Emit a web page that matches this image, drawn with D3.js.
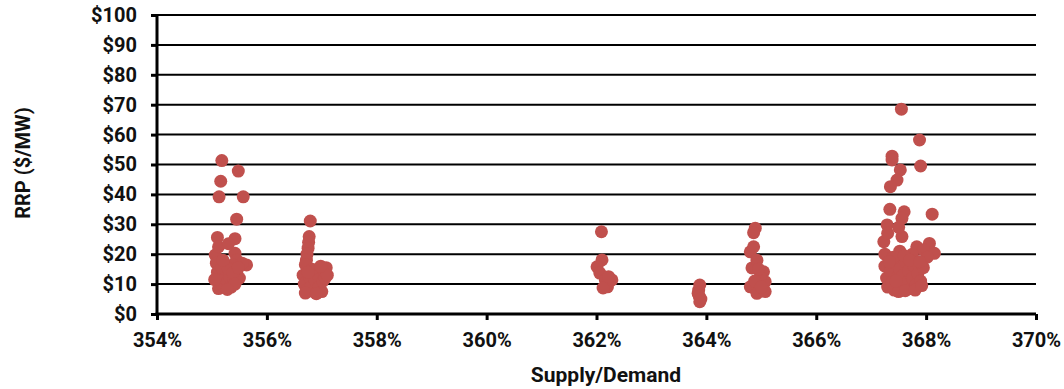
<!DOCTYPE html>
<html>
<head>
<meta charset="utf-8">
<script src="https://cdn.jsdelivr.net/npm/d3@7"></script>
<style>
  body { margin: 0; background: #fff; }
  svg text { font-family: Roboto, "Noto Sans", sans-serif; font-weight: 700; fill: #111; }
</style>
</head>
<body>
<svg id="chart" width="1064" height="389"></svg>
<script>
// [supply/demand %, RRP $/MW], one list per cluster
const cluster355 = [
  [355.18, 51.3], [355.48, 47.8], [355.16, 44.4], [355.13, 39.2], [355.57, 39.2],
  [355.45, 31.7], [355.10, 25.6], [355.42, 25.2], [355.06, 19.7], [355.42, 20.3],
  [355.63, 16.4], [355.12, 22.5], [355.30, 23.5], [355.08, 17.0], [355.45, 18.0],
  [355.55, 17.0], [355.38, 16.5], [355.10, 14.0], [355.15, 11.0], [355.12, 8.5],
  [355.20, 9.5], [355.22, 13.0], [355.28, 10.5], [355.25, 16.0], [355.32, 12.5],
  [355.35, 9.0], [355.40, 11.5], [355.45, 14.0], [355.50, 12.0], [355.18, 15.5],
  [355.05, 11.5], [355.30, 15.0], [355.38, 13.8], [355.42, 10.0], [355.28, 8.2],
  [355.48, 15.5], [355.20, 18.0]
];
const cluster357 = [
  [356.79, 31.1], [356.77, 25.9], [356.76, 24.0], [356.75, 22.0], [356.73, 20.0],
  [356.72, 18.0], [356.70, 16.5], [356.66, 13.0], [356.68, 10.0], [356.72, 8.0],
  [356.78, 12.0], [356.80, 9.0], [356.85, 7.5], [356.88, 11.0], [356.92, 13.5],
  [356.95, 9.0], [357.00, 7.5], [357.02, 11.0], [357.05, 14.0], [357.08, 15.5],
  [357.06, 12.0], [356.70, 7.0], [356.90, 6.8], [356.82, 15.0], [356.75, 14.0],
  [357.10, 13.0], [356.98, 16.0]
];
const cluster362 = [
  [362.09, 27.5], [362.10, 18.1], [362.01, 15.8], [362.06, 13.7], [362.16, 11.4],
  [362.20, 9.1], [362.12, 8.7], [362.28, 11.4], [362.22, 12.5]
];
const cluster364 = [
  [363.88, 9.7], [363.86, 8.0], [363.85, 6.9], [363.87, 5.9], [363.88, 4.1], [363.90, 5.0]
];
const cluster365 = [
  [364.89, 28.7], [364.86, 27.2], [364.80, 20.8], [364.86, 22.5], [364.83, 15.4],
  [365.04, 14.1], [365.07, 10.8], [364.80, 9.1], [364.92, 6.9], [365.07, 7.5],
  [364.98, 12.5], [364.92, 18.0], [364.95, 15.0], [364.88, 11.0], [365.00, 9.0]
];
const cluster368 = [
  [367.55, 68.5], [367.88, 58.2], [367.38, 52.8], [367.38, 51.5], [367.53, 48.2],
  [367.90, 49.5], [367.47, 44.8], [367.35, 42.6], [367.34, 35.0], [367.60, 34.2],
  [368.11, 33.4], [367.56, 32.0], [367.29, 29.8], [367.23, 24.2], [367.56, 25.9],
  [368.06, 23.6], [368.15, 20.3], [367.83, 22.5], [367.30, 27.0], [367.50, 29.0],
  [367.25, 20.0], [367.52, 21.0], [367.95, 21.5], [368.02, 19.0], [367.75, 20.0],
  [367.25, 16.0], [367.28, 12.0], [367.30, 9.0], [367.35, 14.5], [367.38, 10.5],
  [367.42, 8.0], [367.45, 17.0], [367.48, 12.5], [367.52, 15.0], [367.55, 9.5],
  [367.58, 13.0], [367.62, 17.5], [367.65, 10.5], [367.68, 14.5], [367.72, 8.5],
  [367.75, 12.0], [367.78, 16.0], [367.82, 10.0], [367.85, 13.5], [367.90, 11.0],
  [367.95, 15.5], [367.40, 19.0], [367.60, 19.5], [367.33, 17.5], [367.50, 7.5],
  [367.70, 18.0], [367.88, 17.5], [367.45, 11.0], [367.62, 7.8], [367.80, 8.0],
  [367.92, 9.5]
];

const xTicks = [354, 356, 358, 360, 362, 364, 366, 368, 370];
const yTicks = [0, 10, 20, 30, 40, 50, 60, 70, 80, 90, 100];

const margin = { top: 15, left: 157, right: 28, bottom: 75 };
const width = 1064 - margin.left - margin.right;
const height = 389 - margin.top - margin.bottom;

const svg = d3.select('#chart');
const g = svg.append('g').attr('transform', `translate(${margin.left},${margin.top})`);

const x = d3.scaleLinear().domain([354, 370]).range([0, width]);
const y = d3.scaleLinear().domain([0, 100]).range([height, 0]);

// horizontal gridlines
g.append('g')
  .selectAll('line')
  .data(yTicks.filter(d => d > 0))
  .join('line')
  .attr('x1', 0)
  .attr('x2', width)
  .attr('y1', d => y(d))
  .attr('y2', d => y(d))
  .attr('stroke', '#000')
  .attr('stroke-width', 2);

const yAxis = g.append('g')
  .call(d3.axisLeft(y).tickValues(yTicks).tickSize(6).tickPadding(14).tickFormat(d => '$' + d));
yAxis.select('.domain').attr('stroke-width', 3).attr('d', `M0,${height + 1.5}V0`);
yAxis.selectAll('.tick line').attr('stroke-width', 3);
yAxis.selectAll('text').attr('font-size', 20);

const xAxis = g.append('g')
  .attr('transform', `translate(0,${height})`)
  .call(d3.axisBottom(x).tickValues(xTicks).tickSize(6).tickPadding(13).tickFormat(d => d + '%'));
xAxis.select('.domain').attr('stroke-width', 3).attr('d', `M-1.5,0H${width}`);
xAxis.selectAll('.tick line').attr('stroke-width', 3);
xAxis.selectAll('text').attr('font-size', 20);

const allPoints = [].concat(cluster355, cluster357, cluster362, cluster364, cluster365, cluster368);

g.append('g')
  .selectAll('circle')
  .data(allPoints)
  .join('circle')
  .attr('cx', d => x(d[0]))
  .attr('cy', d => y(d[1]))
  .attr('r', 6.5)
  .attr('fill', '#c0504d');

svg.append('text')
  .attr('transform', 'translate(30,163) rotate(-90)')
  .attr('text-anchor', 'middle')
  .attr('font-size', 20)
  .text('RRP ($/MW)');

svg.append('text')
  .attr('x', 606)
  .attr('y', 382)
  .attr('text-anchor', 'middle')
  .attr('font-size', 21)
  .text('Supply/Demand');
</script>
</body>
</html>
